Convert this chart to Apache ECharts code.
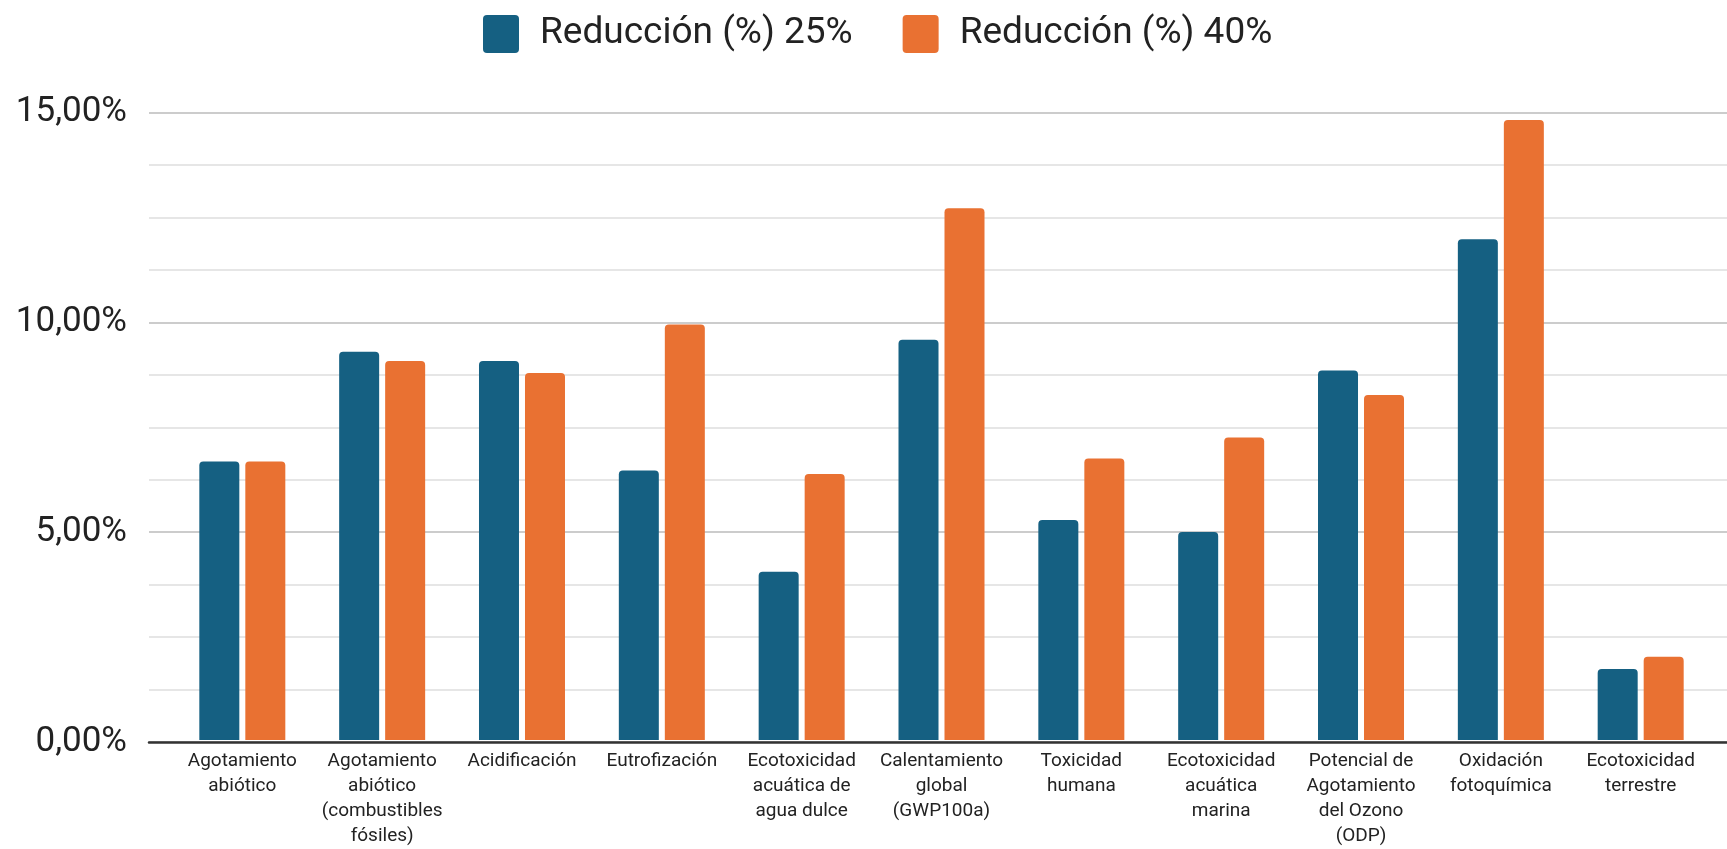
<!DOCTYPE html>
<html>
<head>
<meta charset="utf-8">
<script src="https://cdn.jsdelivr.net/npm/echarts@6/dist/echarts.min.js"></script>
<style>
  html, body { margin: 0; padding: 0; background: #ffffff; }
  #chart { width: 1727px; height: 849px; }
</style>
</head>
<body>
<div id="chart"></div>
<script>
// Impact categories (x axis)
const categories = [
  'Agotamiento\nabiótico',
  'Agotamiento\nabiótico\n(combustibles\nfósiles)',
  'Acidificación',
  'Eutrofización',
  'Ecotoxicidad\nacuática de\nagua dulce',
  'Calentamiento\nglobal\n(GWP100a)',
  'Toxicidad\nhumana',
  'Ecotoxicidad\nacuática\nmarina',
  'Potencial de\nAgotamiento\ndel Ozono\n(ODP)',
  'Oxidación\nfotoquímica',
  'Ecotoxicidad\nterrestre'
];

// Series names
const seriesNames = ['Reducción (%) 25%', 'Reducción (%) 40%'];

// Reduction values, in percent
const reduction25 = [6.66, 9.28, 9.06, 6.44, 4.02, 9.57, 5.26, 4.97, 8.83, 11.97, 1.70];
const reduction40 = [6.66, 9.06, 8.77, 9.93, 6.36, 12.71, 6.73, 7.23, 8.25, 14.82, 1.99];

// Value axis range and step
const yMin = 0;
const yMax = 15;
const yStep = 5;

const FONT = 'Roboto, "Noto Sans", sans-serif';
const COLORS = ['#156082', '#E97132'];

// Legend swatch: rectangle with slightly rounded corners
const SWATCH = 'path://M4,0H32Q36,0 36,4V34Q36,38 32,38H4Q0,38 0,34V4Q0,0 4,0Z';

const pctLabel = v => v.toFixed(2).replace('.', ',') + '%';

const chart = echarts.init(document.getElementById('chart'), null, { renderer: 'canvas' });

const gridTop = 112.5;
const gridBottom = 107;

chart.setOption({
  animation: false,
  backgroundColor: '#ffffff',
  color: COLORS,
  textStyle: { fontFamily: FONT },
  legend: {
    top: 10,
    left: 478,
    itemWidth: 36,
    itemHeight: 38,
    itemGap: 50,
    icon: SWATCH,
    textStyle: {
      fontFamily: FONT,
      fontSize: 37,
      color: '#222222',
      padding: [0, 0, 0, 16]
    },
    data: seriesNames
  },
  grid: [
    // Background grid: value gridlines and the baseline across the full width
    { left: 149, right: 0, top: gridTop, bottom: gridBottom },
    // Bar grid: category bands
    { left: 172.4, right: 16.4, top: gridTop, bottom: gridBottom }
  ],
  xAxis: [
    {
      gridIndex: 0,
      type: 'value',
      min: 0,
      max: 1,
      axisLine: { show: true, lineStyle: { color: '#333333', width: 2.5 } },
      axisTick: { show: false },
      axisLabel: { show: false },
      splitLine: { show: false }
    },
    {
      gridIndex: 1,
      type: 'category',
      data: categories,
      axisLine: { show: false },
      axisTick: { show: false },
      axisLabel: {
        interval: 0,
        margin: 9,
        fontFamily: FONT,
        fontSize: 19,
        lineHeight: 25,
        color: '#222222',
        align: 'center',
        verticalAlign: 'top'
      }
    }
  ],
  yAxis: [
    {
      gridIndex: 0,
      type: 'value',
      min: yMin,
      max: yMax,
      interval: yStep,
      axisLine: { show: false },
      axisTick: { show: false },
      axisLabel: {
        margin: 22,
        fontFamily: FONT,
        fontSize: 35,
        color: '#222222',
        formatter: pctLabel
      },
      splitLine: { show: true, lineStyle: { color: '#cccccc', width: 2 } },
      minorTick: { show: false, splitNumber: 4 },
      minorSplitLine: { show: true, lineStyle: { color: '#e6e6e6', width: 2 } }
    },
    {
      gridIndex: 1,
      type: 'value',
      min: yMin,
      max: yMax,
      interval: yStep,
      show: false,
      splitLine: { show: false }
    }
  ],
  series: [
    {
      name: seriesNames[0],
      type: 'bar',
      xAxisIndex: 1,
      yAxisIndex: 1,
      barWidth: 40,
      barGap: '15%',
      itemStyle: { color: COLORS[0], borderRadius: [4, 4, 0, 0] },
      data: reduction25
    },
    {
      name: seriesNames[1],
      type: 'bar',
      xAxisIndex: 1,
      yAxisIndex: 1,
      barWidth: 40,
      barGap: '15%',
      itemStyle: { color: COLORS[1], borderRadius: [4, 4, 0, 0] },
      data: reduction40
    }
  ]
});
</script>
</body>
</html>
